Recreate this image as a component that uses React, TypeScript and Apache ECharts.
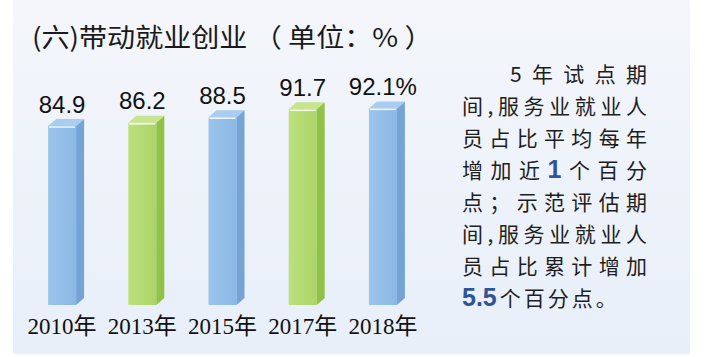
import React, { useEffect, useRef } from "react";
import * as echarts from "echarts";

const categories = ["2010年", "2013年", "2015年", "2017年", "2018年"];
const values = [84.9, 86.2, 88.5, 91.7, 92.1];
const valueLabels = ["84.9", "86.2", "88.5", "91.7", "92.1%"];
const titleText = "(六)带动就业创业 （ 单位：% ）";
const yMin = 12;
const yMax = 100;

const noteLines: string[][] = [
  ["5", "年", "试", "点", "期"],
  ["间", ",", "服", "务", "业", "就", "业", "人"],
  ["员", "占", "比", "平", "均", "每", "年"],
  ["增", "加", "近", "1", "个", "百", "分"],
  ["点", "；", "示", "范", "评", "估", "期"],
  ["间", ",", "服", "务", "业", "就", "业", "人"],
  ["员", "占", "比", "累", "计", "增", "加"],
  ["5.5", "个", "百", "分", "点", "。"],
];
const noteHighlights = [
  [3, 3],
  [7, 0],
];

export default function App() {
  const ref = useRef<HTMLDivElement>(null);
  useEffect(() => {
    if (!ref.current) return;
    const chart = echarts.init(ref.current, null, { renderer: "svg" });
    const cv = document.createElement("canvas").getContext("2d")!;
    const measure = (s: string, font: string) => {
      cv.font = font;
      return cv.measureText(s).width;
    };

    const noteFontSize = 21;
    const hlFontSize = 25;
    const noteFamily = '"Noto Sans CJK SC", "Noto Sans", sans-serif';
    const noteLeft = 462;
    const noteRight = 647;
    const firstIndent = 510;
    const noteTop = 73;
    const noteStep = 32;

    const noteEls: any[] = [];
    noteLines.forEach((tokens, li) => {
      const infos = tokens.map((t, ti) => {
        const hl = noteHighlights.some(([a, b]) => a === li && b === ti);
        const size = hl ? hlFontSize : noteFontSize;
        const weight = hl ? "bold" : "normal";
        const fam = hl ? '"Liberation Sans", Arial, sans-serif' : noteFamily;
        const w = measure(t, `${weight} ${size}px ${fam}`);
        return { t, hl, size, weight, fam, w };
      });
      const start = li === 0 ? firstIndent : noteLeft;
      const total = infos.reduce((s, x) => s + x.w, 0);
      const last = li === noteLines.length - 1;
      const gap = last ? 3 : (noteRight - start - total) / (infos.length - 1);
      let x = start;
      const y = noteTop + li * noteStep;
      infos.forEach((inf) => {
        noteEls.push({
          type: "text",
          x,
          y,
          style: {
            text: inf.t,
            fontSize: inf.size,
            fontWeight: inf.weight,
            fontFamily: inf.fam,
            fill: inf.hl ? "#2f5597" : "#1e1e1e",
            align: "left",
            verticalAlign: "middle",
          },
        });
        x += inf.w + gap;
      });
    });

    const option: any = {
      animation: false,
      backgroundColor: "#ffffff",
      grid: { left: 22, width: 401, top: 89, bottom: 52 },
      xAxis: {
        type: "category",
        data: categories,
        axisLine: { show: false },
        axisTick: { show: false },
        axisLabel: {
          interval: 0,
          fontSize: 23,
          fontFamily: '"Liberation Serif", "Noto Sans CJK SC", serif',
          color: "#111",
          margin: 10,
        },
      },
      yAxis: { type: "value", min: yMin, max: yMax, show: false },
      graphic: [
        {
          type: "rect",
          z: -10,
          shape: { x: 13, y: 0, width: 677, height: 354 },
          style: {
            fill: new echarts.graphic.LinearGradient(0, 0, 0, 1, [
              { offset: 0, color: "#f4f6fb" },
              { offset: 1, color: "#e8eff9" },
            ]),
          },
        },
        {
          type: "text",
          x: 32,
          y: 36,
          scaleX: 1.08,
          style: {
            text: titleText,
            fontSize: 26,
            fontFamily: '"Noto Sans CJK SC", sans-serif',
            fill: "#1a1a1a",
            align: "left",
            verticalAlign: "middle",
          },
        },
        ...noteEls,
      ],
      series: [
        {
          type: "custom",
          data: values.map((v, i) => [i, v]),
          renderItem: (params: any, api: any) => {
            const i = api.value(0);
            const v = api.value(1);
            const top = api.coord([i, v]);
            const base = api.coord([i, yMin]);
            const w = 28;
            const dx = 8;
            const dy = 7;
            const x0 = top[0] - w / 2;
            const y0 = top[1];
            const y1 = base[1];
            const green = i % 2 === 1;
            const c = green
              ? { f1: "#bde07e", f2: "#abd466", side: "#8fc247", top: "#c8e48c" }
              : { f1: "#9cc5ec", f2: "#8ab7e4", side: "#74a3d6", top: "#a9cdf0" };
            return {
              type: "group",
              children: [
                {
                  type: "rect",
                  shape: { x: x0, y: y0, width: w, height: y1 - y0 },
                  style: {
                    fill: new echarts.graphic.LinearGradient(0, 0, 1, 0, [
                      { offset: 0, color: c.f1 },
                      { offset: 1, color: c.f2 },
                    ]),
                  },
                },
                {
                  type: "polygon",
                  shape: {
                    points: [
                      [x0 + w, y0],
                      [x0 + w + dx, y0 - dy],
                      [x0 + w + dx, y1 - dy],
                      [x0 + w, y1],
                    ],
                  },
                  style: { fill: c.side },
                },
                {
                  type: "polygon",
                  shape: {
                    points: [
                      [x0, y0],
                      [x0 + dx, y0 - dy],
                      [x0 + w + dx, y0 - dy],
                      [x0 + w, y0],
                    ],
                  },
                  style: { fill: c.top },
                },
                {
                  type: "line",
                  shape: { x1: x0 + 1, y1: y0 + 1, x2: x0 + w - 1, y2: y0 + 1 },
                  style: { stroke: "rgba(255,255,255,0.85)", lineWidth: 1.5 },
                },
                {
                  type: "text",
                  x: top[0],
                  y: y0 - dy - 3,
                  style: {
                    text: valueLabels[i],
                    fontSize: 24,
                    fontFamily: '"Liberation Sans", Arial, sans-serif',
                    fill: "#111",
                    align: "center",
                    verticalAlign: "bottom",
                  },
                },
              ],
            };
          },
        },
      ],
    };
    chart.setOption(option);
    return () => chart.dispose();
  }, []);
  return (
    <div
      ref={ref}
      style={{ position: "fixed", left: 0, top: 0, width: 706, height: 357 }}
    />
  );
}
